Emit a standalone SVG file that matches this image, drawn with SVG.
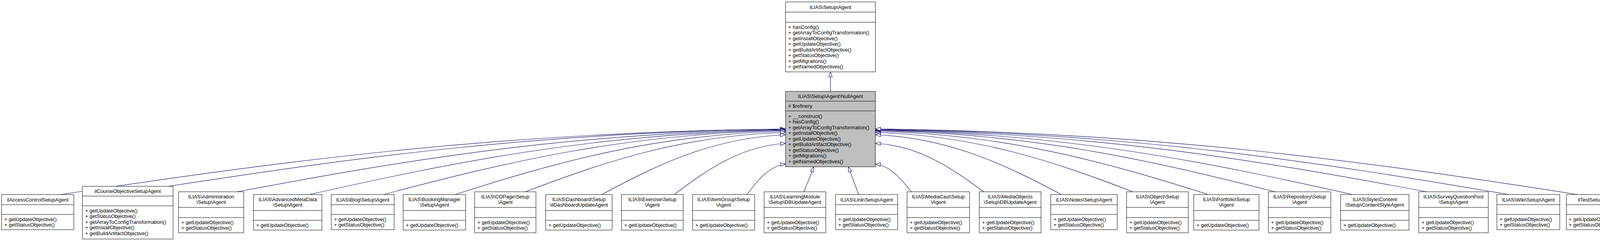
<svg xmlns="http://www.w3.org/2000/svg" width="4183" height="617" viewBox="0 0 4183 617">
<style>
text{font-family:"Liberation Sans",Arial,sans-serif;font-size:13px;fill:#000}
.t{text-anchor:middle}
.b{fill:#fff;stroke:#000;stroke-width:1}
.g{fill:#bfbfbf;stroke:#000;stroke-width:1}
.s{stroke:#000;stroke-width:1}
.e{fill:none;stroke:#191970;stroke-width:1.2;marker-end:url(#tri)}
</style>
<defs>
<marker id="tri" markerUnits="userSpaceOnUse" markerWidth="16" markerHeight="12" refX="14" refY="5.5" orient="auto">
<path d="M1,1 L14,5.5 L1,10 z" fill="#fff" stroke="#191970" stroke-width="1.2"/>
</marker>
</defs>
<rect width="4183" height="617" fill="#fff"/>
<g id="connectors">
<path class="e" d="M2126,234 L2126,184"/>
<path class="e" d="M156,498 C712,414 1269,338 2011,330"/>
<path class="e" d="M431,477 C905,404 1379,338 2011,331"/>
<path class="e" d="M607,491 C1028,412 1449,340 2011,332"/>
<path class="e" d="M792,498 C1158,416 1523,341 2011,333"/>
<path class="e" d="M982,498 C1291,416 1599,342 2011,334"/>
<path class="e" d="M1165,498 C1419,417 1673,344 2011,336"/>
<path class="e" d="M1345,491 C1545,415 1745,347 2011,339"/>
<path class="e" d="M1541,498 C1682,422 1823,353 2011,345"/>
<path class="e" d="M1726,498 C1812,433 1897,374 2011,367"/>
<path class="e" d="M1912,498 C1942,459 1971,424 2011,420"/>
<path class="e" d="M2058,491 C2066,470 2076,448 2083,427"/>
<path class="e" d="M2198,498 C2190,475 2180,450 2172,427"/>
<path class="e" d="M2333,491 C2305,456 2278,424 2241,420"/>
<path class="e" d="M2518,491 C2435,429 2352,373 2241,367"/>
<path class="e" d="M2717,498 C2574,422 2431,353 2241,345"/>
<path class="e" d="M2900,491 C2702,415 2505,347 2241,339"/>
<path class="e" d="M3093,498 C2837,417 2582,344 2241,336"/>
<path class="e" d="M3264,491 C2957,413 2650,342 2241,334"/>
<path class="e" d="M3462,498 C3096,416 2729,341 2241,333"/>
<path class="e" d="M3652,491 C3229,412 2805,340 2241,332"/>
<path class="e" d="M3862,498 C3375,415 2889,339 2241,331"/>
<path class="e" d="M4038,498 C3500,414 2960,338 2241,330"/>
</g>
<g id="agent">
<rect class="b" x="2011" y="5" width="230" height="179"/>
<line class="s" x1="2011" y1="31" x2="2241" y2="31"/>
<line class="s" x1="2011" y1="57" x2="2241" y2="57"/>
<text class="t" x="2126" y="22.5">ILIAS\Setup\Agent</text>
<text x="2018" y="73.5">+ hasConfig()</text>
<text x="2018" y="88">+ getArrayToConfigTransformation()</text>
<text x="2018" y="102.5">+ getInstallObjective()</text>
<text x="2018" y="117">+ getUpdateObjective()</text>
<text x="2018" y="131.5">+ getBuildArtifactObjective()</text>
<text x="2018" y="146">+ getStatusObjective()</text>
<text x="2018" y="160.5">+ getMigrations()</text>
<text x="2018" y="175">+ getNamedObjectives()</text>
</g>
<g id="nullagent">
<rect class="g" x="2011" y="234" width="230" height="193"/>
<line class="s" x1="2011" y1="259" x2="2241" y2="259"/>
<line class="s" x1="2011" y1="284" x2="2241" y2="284"/>
<text class="t" x="2126" y="251">ILIAS\Setup\Agent\NullAgent</text>
<text x="2018" y="276"># $refinery</text>
<text x="2018" y="301.5">+ __construct()</text>
<text x="2018" y="316">+ hasConfig()</text>
<text x="2018" y="330.5">+ getArrayToConfigTransformation()</text>
<text x="2018" y="345">+ getInstallObjective()</text>
<text x="2018" y="359.5">+ getUpdateObjective()</text>
<text x="2018" y="374">+ getBuildArtifactObjective()</text>
<text x="2018" y="388.5">+ getStatusObjective()</text>
<text x="2018" y="403">+ getMigrations()</text>
<text x="2018" y="417.5">+ getNamedObjectives()</text>
</g>
<g id="n1"><rect class="b" x="4" y="498" width="185" height="90"/><line class="s" x1="4" y1="524" x2="189" y2="524"/><line class="s" x1="4" y1="549" x2="189" y2="549"/>
<text class="t" x="96.5" y="515.5">ilAccessControlSetupAgent</text><text x="11" y="565.5">+ getUpdateObjective()</text><text x="11" y="580">+ getStatusObjective()</text></g>
<g id="n2"><rect class="b" x="211" y="477" width="232" height="135"/><line class="s" x1="211" y1="502" x2="443" y2="502"/><line class="s" x1="211" y1="527" x2="443" y2="527"/>
<text class="t" x="327" y="494">ilCourseObjectiveSetupAgent</text><text x="218" y="543.5">+ getUpdateObjective()</text><text x="218" y="558">+ getStatusObjective()</text><text x="218" y="572.5">+ getArrayToConfigTransformation()</text><text x="218" y="587">+ getInstallObjective()</text><text x="218" y="601.5">+ getBuildArtifactObjective()</text></g>
<g id="n3"><rect class="b" x="457" y="491" width="167" height="105"/><line class="s" x1="457" y1="531" x2="624" y2="531"/><line class="s" x1="457" y1="557" x2="624" y2="557"/>
<text class="t" x="540.5" y="508">ILIAS\Administration</text><text class="t" x="540.5" y="522">\Setup\Agent</text><text x="464" y="573.5">+ getUpdateObjective()</text><text x="464" y="588">+ getStatusObjective()</text></g>
<g id="n4"><rect class="b" x="649" y="498" width="175" height="91"/><line class="s" x1="649" y1="539" x2="824" y2="539"/><line class="s" x1="649" y1="564" x2="824" y2="564"/>
<text class="t" x="736.5" y="515">ILIAS\AdvancedMetaData</text><text class="t" x="736.5" y="529">\Setup\Agent</text><text x="656" y="581">+ getUpdateObjective()</text></g>
<g id="n5"><rect class="b" x="848" y="498" width="161" height="90"/><line class="s" x1="848" y1="524" x2="1009" y2="524"/><line class="s" x1="848" y1="549" x2="1009" y2="549"/>
<text class="t" x="928.5" y="515.5">ILIAS\Blog\Setup\Agent</text><text x="855" y="565.5">+ getUpdateObjective()</text><text x="855" y="580">+ getStatusObjective()</text></g>
<g id="n6"><rect class="b" x="1032" y="498" width="160" height="91"/><line class="s" x1="1032" y1="539" x2="1192" y2="539"/><line class="s" x1="1032" y1="564" x2="1192" y2="564"/>
<text class="t" x="1112" y="515">ILIAS\BookingManager</text><text class="t" x="1112" y="529">\Setup\Agent</text><text x="1039" y="581">+ getUpdateObjective()</text></g>
<g id="n7"><rect class="b" x="1215" y="491" width="157" height="105"/><line class="s" x1="1215" y1="531" x2="1372" y2="531"/><line class="s" x1="1215" y1="557" x2="1372" y2="557"/>
<text class="t" x="1293.5" y="508">ILIAS\COPage\Setup</text><text class="t" x="1293.5" y="522">\Agent</text><text x="1222" y="573.5">+ getUpdateObjective()</text><text x="1222" y="588">+ getStatusObjective()</text></g>
<g id="n8"><rect class="b" x="1397" y="498" width="170" height="91"/><line class="s" x1="1397" y1="539" x2="1567" y2="539"/><line class="s" x1="1397" y1="564" x2="1567" y2="564"/>
<text class="t" x="1482" y="515">ILIAS\Dashboard\Setup</text><text class="t" x="1482" y="529">\ilDashboardUpdateAgent</text><text x="1404" y="581">+ getUpdateObjective()</text></g>
<g id="n9"><rect class="b" x="1591" y="498" width="158" height="91"/><line class="s" x1="1591" y1="539" x2="1749" y2="539"/><line class="s" x1="1591" y1="564" x2="1749" y2="564"/>
<text class="t" x="1670" y="515">ILIAS\Exercise\Setup</text><text class="t" x="1670" y="529">\Agent</text><text x="1598" y="581">+ getUpdateObjective()</text></g>
<g id="n10"><rect class="b" x="1773" y="498" width="159" height="91"/><line class="s" x1="1773" y1="539" x2="1932" y2="539"/><line class="s" x1="1773" y1="564" x2="1932" y2="564"/>
<text class="t" x="1852.5" y="515">ILIAS\ItemGroup\Setup</text><text class="t" x="1852.5" y="529">\Agent</text><text x="1780" y="581">+ getUpdateObjective()</text></g>
<g id="n11"><rect class="b" x="1956" y="491" width="158" height="105"/><line class="s" x1="1956" y1="531" x2="2114" y2="531"/><line class="s" x1="1956" y1="557" x2="2114" y2="557"/>
<text class="t" x="2035" y="508">ILIAS\LearningModule</text><text class="t" x="2035" y="522">\Setup\DBUpdateAgent</text><text x="1963" y="573.5">+ getUpdateObjective()</text><text x="1963" y="588">+ getStatusObjective()</text></g>
<g id="n12"><rect class="b" x="2139" y="498" width="159" height="90"/><line class="s" x1="2139" y1="524" x2="2298" y2="524"/><line class="s" x1="2139" y1="549" x2="2298" y2="549"/>
<text class="t" x="2218.5" y="515.5">ILIAS\Link\Setup\Agent</text><text x="2146" y="565.5">+ getUpdateObjective()</text><text x="2146" y="580">+ getStatusObjective()</text></g>
<g id="n13"><rect class="b" x="2322" y="491" width="160" height="105"/><line class="s" x1="2322" y1="531" x2="2482" y2="531"/><line class="s" x1="2322" y1="557" x2="2482" y2="557"/>
<text class="t" x="2402" y="508">ILIAS\MediaCast\Setup</text><text class="t" x="2402" y="522">\Agent</text><text x="2329" y="573.5">+ getUpdateObjective()</text><text x="2329" y="588">+ getStatusObjective()</text></g>
<g id="n14"><rect class="b" x="2507" y="491" width="158" height="105"/><line class="s" x1="2507" y1="531" x2="2665" y2="531"/><line class="s" x1="2507" y1="557" x2="2665" y2="557"/>
<text class="t" x="2586" y="508">ILIAS\MediaObjects</text><text class="t" x="2586" y="522">\Setup\DBUpdateAgent</text><text x="2514" y="573.5">+ getUpdateObjective()</text><text x="2514" y="588">+ getStatusObjective()</text></g>
<g id="n15"><rect class="b" x="2690" y="498" width="170" height="90"/><line class="s" x1="2690" y1="524" x2="2860" y2="524"/><line class="s" x1="2690" y1="549" x2="2860" y2="549"/>
<text class="t" x="2775" y="515.5">ILIAS\Notes\Setup\Agent</text><text x="2697" y="565.5">+ getUpdateObjective()</text><text x="2697" y="580">+ getStatusObjective()</text></g>
<g id="n16"><rect class="b" x="2884" y="491" width="158" height="105"/><line class="s" x1="2884" y1="531" x2="3042" y2="531"/><line class="s" x1="2884" y1="557" x2="3042" y2="557"/>
<text class="t" x="2963" y="508">ILIAS\Object\Setup</text><text class="t" x="2963" y="522">\Agent</text><text x="2891" y="573.5">+ getUpdateObjective()</text><text x="2891" y="588">+ getStatusObjective()</text></g>
<g id="n17"><rect class="b" x="3056" y="498" width="167" height="91"/><line class="s" x1="3056" y1="539" x2="3223" y2="539"/><line class="s" x1="3056" y1="564" x2="3223" y2="564"/>
<text class="t" x="3139.5" y="515">ILIAS\Portfolio\Setup</text><text class="t" x="3139.5" y="529">\Agent</text><text x="3063" y="581">+ getUpdateObjective()</text></g>
<g id="n18"><rect class="b" x="3247" y="491" width="160" height="105"/><line class="s" x1="3247" y1="531" x2="3407" y2="531"/><line class="s" x1="3247" y1="557" x2="3407" y2="557"/>
<text class="t" x="3327" y="508">ILIAS\Repository\Setup</text><text class="t" x="3327" y="522">\Agent</text><text x="3254" y="573.5">+ getUpdateObjective()</text><text x="3254" y="588">+ getStatusObjective()</text></g>
<g id="n19"><rect class="b" x="3432" y="498" width="175" height="91"/><line class="s" x1="3432" y1="539" x2="3607" y2="539"/><line class="s" x1="3432" y1="564" x2="3607" y2="564"/>
<text class="t" x="3519.5" y="515">ILIAS\Style\Content</text><text class="t" x="3519.5" y="529">\Setup\ContentStyleAgent</text><text x="3439" y="581">+ getUpdateObjective()</text></g>
<g id="n20"><rect class="b" x="3632" y="491" width="178" height="105"/><line class="s" x1="3632" y1="531" x2="3810" y2="531"/><line class="s" x1="3632" y1="557" x2="3810" y2="557"/>
<text class="t" x="3721" y="508">ILIAS\SurveyQuestionPool</text><text class="t" x="3721" y="522">\Setup\Agent</text><text x="3639" y="573.5">+ getUpdateObjective()</text><text x="3639" y="588">+ getStatusObjective()</text></g>
<g id="n21"><rect class="b" x="3832" y="498" width="161" height="90"/><line class="s" x1="3832" y1="524" x2="3993" y2="524"/><line class="s" x1="3832" y1="549" x2="3993" y2="549"/>
<text class="t" x="3912.5" y="515.5">ILIAS\Wiki\Setup\Agent</text><text x="3839" y="565.5">+ getUpdateObjective()</text><text x="3839" y="580">+ getStatusObjective()</text></g>
<g id="n22"><rect class="b" x="4010" y="498" width="156" height="90"/><line class="s" x1="4010" y1="524" x2="4166" y2="524"/><line class="s" x1="4010" y1="549" x2="4166" y2="549"/>
<text class="t" x="4088" y="515.5">ilTestSetupAgent</text><text x="4016" y="565.5">+ getUpdateObjective()</text><text x="4016" y="580">+ getStatusObjective()</text></g>
</svg>
